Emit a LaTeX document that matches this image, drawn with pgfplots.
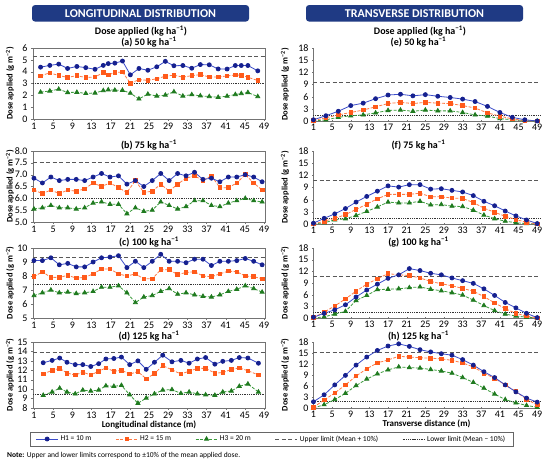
\documentclass[border=0pt]{standalone}
\usepackage{fontspec}
\setmainfont{Carlito}
\usepackage{pgfplots}
\usepackage{pgfplotstable}
\pgfplotsset{compat=1.18}
\definecolor{navy}{HTML}{1F3A84}
\definecolor{hA}{HTML}{3B4CCA}
\definecolor{hAm}{HTML}{15208F}
\definecolor{hB}{HTML}{FF7A45}
\definecolor{hBm}{HTML}{FF5A1A}
\definecolor{hC}{HTML}{3A9A3A}
\definecolor{hCm}{HTML}{1F7A1F}

\pgfplotstableread{
x b o g
2.38 4.38 3.65 2.27
4.31 4.53 3.90 2.37
6.17 4.64 3.67 2.52
8.02 4.27 3.52 2.24
9.95 4.44 3.66 2.26
11.81 4.34 3.50 2.16
13.74 4.20 3.55 2.20
15.46 4.53 3.92 2.40
16.50 4.68 3.73 2.47
17.87 4.72 3.93 2.44
19.46 4.90 3.97 2.43
21.11 3.73 3.03 2.18
22.90 4.27 3.32 1.70
24.76 4.12 3.27 2.10
26.62 4.41 3.40 1.94
28.41 4.87 3.62 2.02
30.20 4.50 3.70 2.30
32.06 4.52 3.54 1.94
33.92 4.29 3.66 2.06
35.71 4.60 3.75 1.96
37.57 4.58 3.55 1.90
39.43 4.23 3.55 1.84
41.29 4.22 3.64 1.93
43.01 4.52 3.72 2.07
44.25 4.52 3.70 2.15
45.63 4.52 3.53 2.24
47.69 4.07 3.25 1.90
}\tA

\pgfplotstableread{
x b o g
1.00 6.85 6.35 5.55
2.76 6.65 6.20 5.60
4.53 6.90 6.35 5.70
6.29 6.75 6.20 5.60
8.05 6.80 6.35 5.60
9.82 6.80 6.30 5.55
11.58 6.75 6.40 5.60
13.34 6.90 6.65 5.80
15.10 7.05 6.50 5.85
16.87 6.90 6.65 5.75
18.63 6.95 6.45 5.75
20.39 6.60 6.25 5.35
22.16 6.75 6.75 5.60
23.92 6.50 6.25 5.45
25.68 6.75 6.30 5.50
27.45 7.05 6.60 5.85
29.21 6.75 6.30 5.70
30.97 7.05 6.60 5.55
32.73 6.95 6.85 5.65
34.50 7.10 6.95 5.90
36.26 6.80 6.75 5.90
38.02 6.85 6.95 5.70
39.79 6.70 6.45 5.65
41.55 6.90 6.45 5.80
43.31 6.90 6.65 5.90
45.08 7.00 7.00 6.00
46.84 6.90 6.65 5.90
48.60 6.70 6.35 5.85
}\tB

\pgfplotstableread{
x b o g
1.00 9.10 7.95 6.60
2.76 9.10 8.30 6.80
4.53 9.30 7.90 7.00
6.29 8.80 7.90 6.80
8.05 8.90 8.05 6.85
9.82 8.65 7.85 6.75
11.58 8.65 7.90 6.80
13.34 9.00 8.15 6.90
15.10 9.30 8.50 7.20
16.87 9.35 8.50 7.20
18.63 9.45 8.15 7.30
20.39 8.60 8.00 6.80
22.16 9.05 8.15 6.10
23.92 8.60 7.80 6.50
25.68 9.05 7.80 6.60
27.45 9.55 8.45 6.90
29.21 9.05 8.45 7.10
30.97 9.05 8.10 6.70
32.73 8.95 8.25 6.80
34.50 9.20 8.30 6.65
36.26 9.20 8.00 6.55
38.02 8.75 7.95 6.50
39.79 9.05 8.15 6.65
41.55 9.05 8.35 6.90
43.31 9.10 8.30 7.05
45.08 9.25 8.00 7.30
46.84 9.05 7.95 7.10
48.60 8.80 7.80 6.85
}\tC

\pgfplotstableread{
x b o g
2.93 12.80 11.60 9.35
4.79 13.05 12.00 9.70
6.37 13.30 12.20 10.10
7.89 12.85 11.70 9.70
9.61 12.60 11.50 9.50
11.19 12.60 11.80 9.90
12.85 12.40 11.50 9.80
14.50 12.70 11.90 9.90
16.01 13.20 12.25 10.35
17.67 13.25 11.90 10.30
19.25 13.40 12.00 10.40
20.97 12.60 11.60 9.40
22.69 13.00 11.85 8.50
24.42 12.10 11.10 9.05
26.14 12.85 11.65 9.50
27.86 13.60 12.50 9.90
29.79 12.90 12.05 9.95
31.65 13.05 11.60 9.55
33.37 12.75 11.90 9.70
35.09 13.20 12.20 9.50
36.81 13.35 12.20 9.40
38.74 12.65 11.70 9.35
40.39 12.95 11.75 9.70
42.18 13.05 12.10 9.80
43.84 13.35 12.25 10.30
45.63 13.30 11.95 10.55
47.83 12.75 11.50 9.70
}\tD

\pgfplotstableread{
x b o g
1.00 0.3 0.1 0.0
3.67 1.3 0.8 0.3
6.33 2.4 1.5 0.9
9.00 3.8 2.1 1.3
11.67 4.4 2.7 1.5
14.33 5.5 3.5 2.0
17.00 6.4 4.3 2.6
19.67 6.6 4.6 2.7
22.33 6.2 4.3 2.4
25.00 6.5 4.6 2.7
27.67 6.1 4.4 2.5
30.33 5.8 4.3 2.5
33.00 5.4 3.8 2.1
35.67 4.8 3.2 1.5
38.33 3.6 2.0 1.2
41.00 2.1 1.2 0.6
43.67 0.9 0.5 0.3
46.33 0.3 0.1 0.1
49.00 0.0 0.0 0.0
}\tE

\pgfplotstableread{
x b o g
1.00 0.2 0.0 0.0
3.29 1.4 0.7 0.3
5.57 2.5 1.4 1.0
7.86 3.8 2.3 1.3
10.14 5.4 3.6 2.1
12.43 6.8 4.9 3.1
14.71 8.1 6.2 4.2
17.00 9.4 7.3 5.4
19.29 9.1 7.3 5.2
21.57 9.7 7.3 5.2
23.86 9.7 7.6 5.6
26.14 8.6 6.7 4.7
28.43 8.7 6.7 4.8
30.71 8.3 6.4 4.4
33.00 7.9 6.3 4.3
35.29 7.0 5.3 3.4
37.57 5.6 3.9 2.2
39.86 4.5 2.9 1.3
42.14 3.2 1.9 0.7
44.43 2.0 1.1 0.3
46.71 1.0 0.4 0.1
49.00 0.1 0.0 0.0
}\tF

\pgfplotstableread{
x b o g
1.00 0.2 0.1 0.0
3.29 1.2 1.5 0.3
5.57 2.1 3.1 1.0
7.86 3.4 4.9 1.7
10.14 5.4 6.9 4.5
12.43 7.2 8.7 5.8
14.71 8.7 10.1 7.3
17.00 10.2 11.4 7.4
19.29 11.1 11.1 7.5
21.57 12.7 10.9 7.8
23.86 12.2 10.3 8.0
26.14 11.5 9.4 7.4
28.43 11.1 8.8 7.0
30.71 10.3 8.3 6.5
33.00 9.6 7.6 5.9
35.29 8.9 6.9 4.6
37.57 7.5 5.5 3.2
39.86 5.8 3.9 1.9
42.14 4.0 2.4 1.0
44.43 2.6 1.2 0.5
46.71 1.2 0.5 0.2
49.00 0.1 0.0 0.0
}\tG

\pgfplotstableread{
x b o g
1.00 1.7 0.2 0.0
3.29 3.6 2.2 0.9
5.57 6.3 4.1 2.3
7.86 8.9 6.3 4.0
10.14 11.7 8.7 6.1
12.43 13.9 10.7 7.9
14.71 15.7 12.3 9.3
17.00 16.9 13.1 10.4
19.29 17.5 14.1 11.2
21.57 16.8 13.9 11.0
23.86 15.9 13.7 10.9
26.14 15.3 13.6 10.5
28.43 14.8 13.4 10.1
30.71 14.4 13.0 9.5
33.00 13.2 12.3 8.3
35.29 11.7 11.2 7.0
37.57 9.9 9.5 5.4
39.86 8.3 8.1 3.8
42.14 6.3 6.3 2.3
44.43 4.4 4.5 1.4
46.71 2.7 2.4 0.7
49.00 1.6 0.8 0.2
}\tH

\pgfplotsset{
  base/.style={scale only axis, clip=false, xtick={1,5,...,49},
    tick label style={font=\fontsize{10}{11}\selectfont},
    /pgf/number format/assume math mode=true,
    axis line style={black!55}, tick style={black!55}, major tick length=2pt, tick align=outside,
    every axis title/.style={at={(0.5,1)}, anchor=south, inner sep=1pt, yshift=-0.5pt, font=\bfseries\fontsize{10}{12}\selectfont},
    ylabel={Dose applied (g m\textsuperscript{−2})},
    every axis y label/.style={at={(axis description cs:0,0.5)}, rotate=90, anchor=center, yshift=23pt, font=\bfseries\fontsize{8.5}{10}\selectfont},
    xlabel style={font=\bfseries\fontsize{9}{11}\selectfont, inner sep=1pt},
    xticklabel style={inner sep=1.5pt},
    legend image code/.code={\draw[mark repeat=2, mark phase=2, ##1] plot coordinates {(0pt,0pt) (11pt,0pt) (22pt,0pt)};},
  },
  lon/.style={base, width=232pt, xmin=0.8, xmax=49.2, tick pos=left},
  tra/.style={base, width=227pt, xmin=0.9, xmax=49.6, ymin=0, ymax=18, ytick={0,3,...,18},
    axis x line=bottom, axis y line=left, axis line style={-},
    every axis y label/.append style={yshift=5pt}, every axis title/.append style={xshift=-8pt}},
  sA/.style={color=hA, line width=0.8pt, mark=*, mark size=2pt, mark options={solid, fill=hAm, draw=hAm}},
  sB/.style={color=hB, line width=0.8pt, dash pattern=on 3pt off 1.5pt, mark=square*, mark size=1.8pt, mark options={solid, fill=hBm, draw=hBm}},
  sC/.style={color=hC, line width=0.8pt, dash pattern=on 3pt off 1.5pt, mark=triangle*, mark size=2.3pt, mark options={solid, fill=hCm, draw=hCm}},
  up/.style={black!65, line width=1pt, dash pattern=on 4pt off 2.5pt, no marks},
  lo/.style={black!80, line width=0.9pt, dash pattern=on 0.9pt off 0.9pt, no marks},
}

\begin{document}
\begin{tikzpicture}
\path[use as bounding box, fill=white] (0pt,0pt) rectangle (550pt,-462pt);

\node[fill=navy, rounded corners=3pt, minimum width=217pt, minimum height=16.5pt, inner sep=0pt, text=white, font=\bfseries\fontsize{12}{14}\selectfont] at (140.5pt,-13.3pt) {LONGITUDINAL DISTRIBUTION};
\node[fill=navy, rounded corners=3pt, minimum width=217pt, minimum height=16.5pt, inner sep=0pt, text=white, font=\bfseries\fontsize{12}{14}\selectfont] at (414.5pt,-13.3pt) {TRANSVERSE DISTRIBUTION};
\node[font=\bfseries\fontsize{10}{12}\selectfont] at (141pt,-31pt) {Dose applied (kg ha\textsuperscript{−1})};
\node[font=\bfseries\fontsize{10}{12}\selectfont] at (420pt,-31pt) {Dose applied (kg ha\textsuperscript{−1})};

% (a)
\begin{axis}[lon, at={(33pt,-48pt)}, anchor=north west, height=71pt, ymin=0, ymax=6, ytick={0,...,6}, title={(a) 50 kg ha\textsuperscript{−1}}]
\addplot[up] coordinates {(0.8,5.3) (49.2,5.3)};
\addplot[lo] coordinates {(0.8,3.0) (49.2,3.0)};
\addplot[sC] table[x=x,y=g]{\tA};
\addplot[sB] table[x=x,y=o]{\tA};
\addplot[sA] table[x=x,y=b]{\tA};
\end{axis}

% (b)
\begin{axis}[lon, at={(33pt,-151pt)}, anchor=north west, height=71pt, ymin=5, ymax=8, ytick={5,5.5,...,8},
  yticklabel style={/pgf/number format/.cd, fixed, fixed zerofill, precision=1}, title={(b) 75 kg ha\textsuperscript{−1}}]
\addplot[up] coordinates {(0.8,7.5) (49.2,7.5)};
\addplot[lo] coordinates {(0.8,6.0) (49.2,6.0)};
\addplot[sC] table[x=x,y=g]{\tB};
\addplot[sB] table[x=x,y=o]{\tB};
\addplot[sA] table[x=x,y=b]{\tB};
\end{axis}

% (c)
\begin{axis}[lon, at={(33pt,-248pt)}, anchor=north west, height=70pt, ymin=5, ymax=10, ytick={5,...,10}, title={(c) 100 kg ha\textsuperscript{−1}}]
\addplot[up] coordinates {(0.8,9.3) (49.2,9.3)};
\addplot[lo] coordinates {(0.8,7.4) (49.2,7.4)};
\addplot[sC] table[x=x,y=g]{\tC};
\addplot[sB] table[x=x,y=o]{\tC};
\addplot[sA] table[x=x,y=b]{\tC};
\end{axis}

% (d)
\begin{axis}[lon, at={(33pt,-342pt)}, anchor=north west, height=66pt, ymin=8, ymax=15, ytick={8,...,15}, title={(d) 125 kg ha\textsuperscript{−1}},
  xlabel={Longitudinal distance (m)},
  legend columns=5,
  legend style={at={(axis description cs:1.028,-0.47)}, anchor=center, draw=black!60, line width=0.5pt,
    font=\fontsize{7.5}{9}\selectfont, inner xsep=6pt, inner ysep=1.5pt,
    /tikz/every even column/.append style={column sep=22pt}}]
\addplot[sA] table[x=x,y=b]{\tD};
\addlegendentry{H1 = 10 m}
\addplot[sB] table[x=x,y=o]{\tD};
\addlegendentry{H2 = 15 m}
\addplot[sC] table[x=x,y=g]{\tD};
\addlegendentry{H3 = 20 m}
\addplot[up] coordinates {(0.8,13.9) (49.2,13.9)};
\addlegendentry{Upper limit (Mean + 10\%)}
\addplot[lo] coordinates {(0.8,9.45) (49.2,9.45)};
\addlegendentry{Lower limit (Mean − 10\%)}
\end{axis}

% (e)
\begin{axis}[tra, at={(313pt,-48pt)}, anchor=north west, height=73pt, title={(e) 50 kg ha\textsuperscript{−1}}]
\addplot[up] coordinates {(0.9,9.5) (49.6,9.5)};
\addplot[lo] coordinates {(0.9,1.4) (49.6,1.4)};
\addplot[sC] table[x=x,y=g]{\tE};
\addplot[sB] table[x=x,y=o]{\tE};
\addplot[sA] table[x=x,y=b]{\tE};
\end{axis}

% (f)
\begin{axis}[tra, at={(313pt,-151pt)}, anchor=north west, height=73pt, title={(f) 75 kg ha\textsuperscript{−1}}]
\addplot[up] coordinates {(0.9,10.7) (49.6,10.7)};
\addplot[lo] coordinates {(0.9,1.4) (49.6,1.4)};
\addplot[sC] table[x=x,y=g]{\tF};
\addplot[sB] table[x=x,y=o]{\tF};
\addplot[sA] table[x=x,y=b]{\tF};
\end{axis}

% (g)
\begin{axis}[tra, at={(313pt,-248pt)}, anchor=north west, height=70pt, title={(g) 100 kg ha\textsuperscript{−1}}]
\addplot[up] coordinates {(0.9,10.6) (49.6,10.6)};
\addplot[lo] coordinates {(0.9,1.5) (49.6,1.5)};
\addplot[sC] table[x=x,y=g]{\tG};
\addplot[sB] table[x=x,y=o]{\tG};
\addplot[sA] table[x=x,y=b]{\tG};
\end{axis}

% (h)
\begin{axis}[tra, at={(313pt,-342pt)}, anchor=north west, height=66pt, title={(h) 125 kg ha\textsuperscript{−1}}, xlabel={Transverse distance (m)}]
\addplot[up] coordinates {(0.9,15.0) (49.6,15.0)};
\addplot[lo] coordinates {(0.9,1.9) (49.6,1.9)};
\addplot[sC] table[x=x,y=g]{\tH};
\addplot[sB] table[x=x,y=o]{\tH};
\addplot[sA] table[x=x,y=b]{\tH};
\end{axis}

\node[anchor=west, font=\fontsize{7.5}{9}\selectfont, inner sep=0pt] at (7pt,-455.6pt) {\textbf{Note:} Upper and lower limits correspond to ±10\% of the mean applied dose.};
\end{tikzpicture}
\end{document}
